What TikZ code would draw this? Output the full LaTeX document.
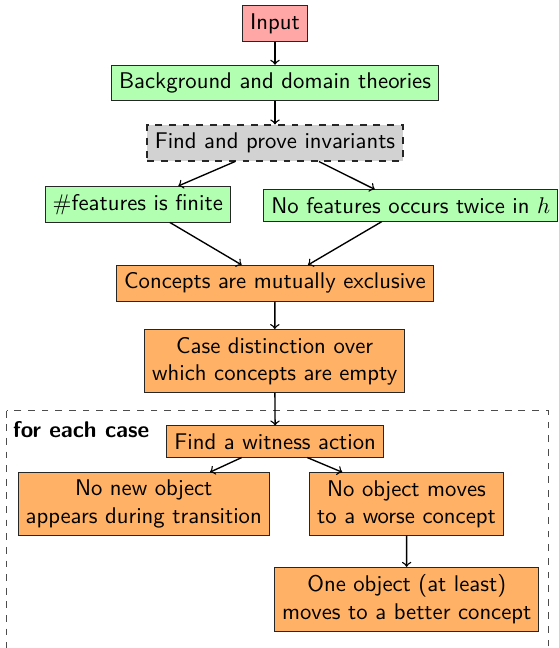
\documentclass[tikz,border=0pt]{standalone}
\usetikzlibrary{calc}
\begin{document}
\begin{tikzpicture}[x=0.4405pt,y=-0.4405pt, font=\sffamily,
  box/.style={draw=black!85, align=center, inner sep=0.333em},
  redbox/.style={box, fill=red!35},
  greenbox/.style={box, fill=green!30},
  graybox/.style={box, fill=gray!35, dashed, thick},
  orangebox/.style={box, fill=orange!60},
  arr/.style={->, draw=black, semithick},
  casebox/.style={draw=black!70, dashed}]
\useasboundingbox (0,0) rectangle (559,648);
\draw[casebox] (6.7,410.7) rectangle (548.3,680);
\node[anchor=base west, inner sep=0, font=\sffamily\bfseries] (lbl) at (12.7,437) {for each case};

\node[redbox] (input) at (275,23.5) {Input};
\node[greenbox] (bg) at (275,83) {Background and domain theories};
\node[graybox] (find) at (275,143) {Find and prove invariants};
\node[greenbox] (feat) at (137.8,204.2) {\#features is finite};
\node[greenbox, anchor=west] (nofeat) at (263.3,205.5) {No features occurs twice in $h$};
\node[orangebox] (conc) at (275,283.3) {Concepts are mutually exclusive};
\node[orangebox] (cased) at (274.7,361) {Case distinction over\\which concepts are empty};
\node[orangebox] (wit) at (275.2,441.5) {Find a witness action};
\node[orangebox] (nonew) at (143.7,504) {No new object\\appears during transition};
\node[orangebox] (nomove) at (406.5,504) {No object moves\\to a worse concept};
\node[orangebox] (one) at (406.7,599.2) {One object (at least)\\moves to a better concept};

\draw[arr] (input) -- (bg);
\draw[arr] (bg) -- (find);
\draw[arr] ($(find.south)+(-40,0)$) -- ($(feat.north)+(40.5,0)$);
\draw[arr] ($(find.south)+(44,0)$) -- ($(nofeat.north)+(-36,0)$);
\draw[arr] ($(feat.south)+(32,0)$) -- ($(conc.north)+(-33.3,0)$);
\draw[arr] ($(nofeat.south)+(-29,0)$) -- ($(conc.north)+(33,0)$);
\draw[arr] (conc) -- (cased);
\draw[arr] (cased) -- (wit);
\draw[arr] ($(wit.south)+(-33.5,0)$) -- ($(nonew.north)+(66.3,0)$);
\draw[arr] ($(wit.south)+(32,0)$) -- ($(nomove.north)+(-64.2,0)$);
\draw[arr] (nomove) -- (one);
\end{tikzpicture}
\end{document}
